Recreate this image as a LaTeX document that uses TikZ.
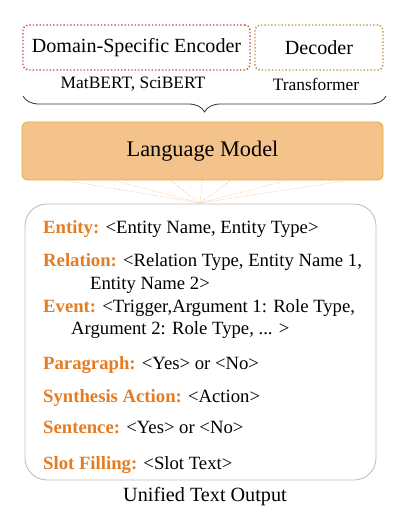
\documentclass[tikz,border=0pt]{standalone}
\usepackage{fontspec}
\setmainfont{Liberation Serif}
\usetikzlibrary{decorations.pathreplacing}
\definecolor{encred}{RGB}{196,72,72}
\definecolor{decgold}{RGB}{184,146,64}
\definecolor{lmfill}{RGB}{244,194,139}
\definecolor{lmdraw}{RGB}{232,172,60}
\definecolor{fanline}{RGB}{246,190,140}
\definecolor{keyorange}{RGB}{228,124,36}
\definecolor{outgray}{RGB}{190,190,190}
\begin{document}
\begin{tikzpicture}[x=1pt,y=-1pt,
  modbox/.style={draw, dotted, line width=1.4pt, rounded corners=5pt, inner sep=0pt},
  entry/.style={anchor=base west, inner sep=0pt, font=\fontsize{18.7}{22}\selectfont},
  captxt/.style={inner sep=0pt, font=\fontsize{17.4}{20}\selectfont}]
\useasboundingbox (0,0) rectangle (410,521);
% encoder / decoder boxes
\node[modbox, draw=encred, minimum width=227pt, minimum height=45pt,
      font=\fontsize{20.1}{24}\selectfont] (enc) at (136.5,47.5) {Domain-Specific Encoder};
\node[modbox, draw=decgold, minimum width=128pt, minimum height=45pt,
      font=\fontsize{20.1}{24}\selectfont] (dec) at (319,47.5) {Decoder};
\node[captxt] (matbert) at (133,84) {MatBERT, SciBERT};
\node[captxt] (transf) at (316,84) {Transformer};
% brace gathering both parts
\coordinate (braceR) at (386,96);
\coordinate (braceL) at (23,96);
\draw[line width=0.8pt, draw=black!80, decorate, decoration={brace, amplitude=16pt}] (braceR) -- (braceL);
% language model
\node[draw=lmdraw, fill=lmfill, line width=0.9pt, rounded corners=6pt,
      minimum width=361pt, minimum height=58pt, inner sep=0pt,
      font=\fontsize{22.3}{26}\selectfont] (lm) at (202.5,151) {Language Model};
% dotted fan into the output box
\coordinate (fan) at (200,203);
\foreach \dx in {-137,-89,-32,0,28,85,145}
  \draw[fanline, densely dotted, line width=0.6pt] ([xshift=\dx pt]lm.south) -- (fan);
% unified output box
\node[draw=outgray, line width=0.9pt, rounded corners=22pt,
      minimum width=351pt, minimum height=276pt, inner sep=0pt] (out) at (200.5,342) {};
\node[captxt, font=\fontsize{20.2}{24}\selectfont] (outcap) at (205,497) {Unified Text Output};
% output formats
\node[entry] (e1) at (43,233) {\textcolor{keyorange}{\bfseries Entity:} <Entity Name, Entity Type>};
\node[entry] (e2) at (43,266) {\textcolor{keyorange}{\bfseries Relation:} <Relation Type, Entity Name 1,};
\node[entry] (e2b) at (90,289) {Entity Name 2>};
\node[entry] (e3) at (43,312) {\textcolor{keyorange}{\bfseries Event:} <Trigger,Argument 1: Role Type,};
\node[entry] (e3b) at (71,334) {Argument 2: Role Type, ... >};
\node[entry] (e4) at (43,369) {\textcolor{keyorange}{\bfseries Paragraph:} <Yes> or <No>};
\node[entry] (e5) at (43,402) {\textcolor{keyorange}{\bfseries Synthesis Action:} <Action>};
\node[entry] (e6) at (43,433) {\textcolor{keyorange}{\bfseries Sentence:} <Yes> or <No>};
\node[entry] (e7) at (43,469) {\textcolor{keyorange}{\bfseries Slot Filling:} <Slot Text>};
\end{tikzpicture}
\end{document}
